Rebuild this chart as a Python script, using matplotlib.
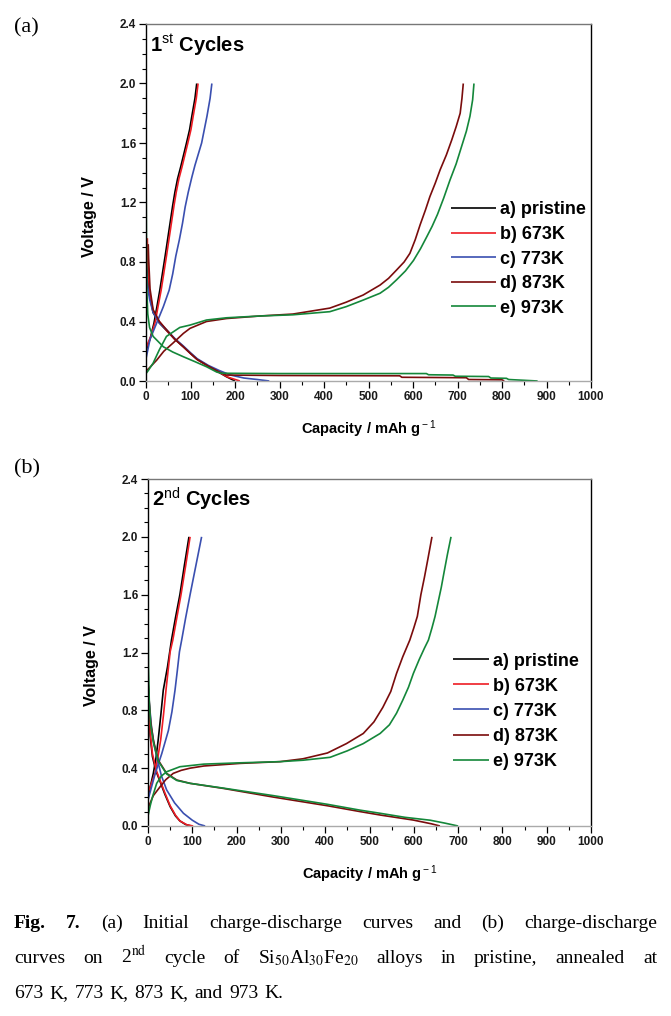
import matplotlib
matplotlib.use("Agg")
import matplotlib.pyplot as plt
from matplotlib.ticker import MultipleLocator

plt.rcParams['font.family'] = ['Liberation Sans', 'DejaVu Sans']
plt.rcParams['mathtext.fontset'] = 'custom'
plt.rcParams['mathtext.rm'] = 'Liberation Sans'
plt.rcParams['mathtext.bf'] = 'Liberation Sans:bold'
plt.rcParams['mathtext.it'] = 'Liberation Sans:italic'

# ---------------- data: panel (a) 1st cycle ----------------
series_labels = ['a) pristine', 'b) 673K', 'c) 773K', 'd) 873K', 'e) 973K']
series_colors = ['#000000', '#ee1c24', '#3a4fb0', '#7a0c0c', '#14873a']

a_pristine_chg_cap = [0, 4, 9, 18, 24, 31, 43, 54, 60, 65, 71, 78, 91, 98, 103, 110, 114]
a_pristine_chg_v = [0.20, 0.24, 0.28, 0.39, 0.49, 0.61, 0.84, 1.06, 1.18, 1.27, 1.36, 1.44, 1.60, 1.69, 1.78, 1.90, 2.0]
a_pristine_dis_cap = [0, 3, 8, 16, 30, 46, 65, 84, 100, 115, 140, 160, 180, 200]
a_pristine_dis_v = [0.85, 0.72, 0.58, 0.46, 0.39, 0.34, 0.28, 0.23, 0.185, 0.145, 0.10, 0.065, 0.03, 0.0]

a_673_chg_cap = [0, 5, 11, 21, 27, 34, 46, 57, 63, 68, 74, 81, 94, 101, 106, 113, 117]
a_673_chg_v = [0.22, 0.26, 0.30, 0.40, 0.50, 0.61, 0.84, 1.06, 1.18, 1.27, 1.36, 1.44, 1.60, 1.69, 1.78, 1.90, 2.0]
a_673_dis_cap = [3, 4, 8, 16, 30, 46, 65, 84, 100, 115, 140, 160, 185, 211]
a_673_dis_v = [0.96, 0.80, 0.60, 0.47, 0.40, 0.34, 0.28, 0.23, 0.185, 0.145, 0.10, 0.065, 0.025, 0.0]

a_773_chg_cap = [0, 9, 24, 39, 52, 60, 67, 75, 82, 88, 95, 103, 110, 118, 125, 137, 144, 148]
a_773_chg_v = [0.15, 0.28, 0.39, 0.50, 0.61, 0.72, 0.84, 0.95, 1.06, 1.17, 1.27, 1.37, 1.45, 1.53, 1.60, 1.78, 1.90, 2.0]
a_773_dis_cap = [0, 3, 8, 16, 30, 46, 65, 84, 100, 115, 140, 165, 190, 220, 250, 277]
a_773_dis_v = [0.80, 0.65, 0.55, 0.46, 0.39, 0.345, 0.285, 0.235, 0.19, 0.15, 0.105, 0.07, 0.04, 0.02, 0.01, 0.0]

a_873_chg_cap = [0, 5, 24, 40, 61, 84, 99, 136, 181, 256, 330, 413, 450, 488, 526, 545, 563, 580, 593, 605, 616, 628, 638, 650, 661, 675, 687, 697, 706, 710, 713]
a_873_chg_v = [0.07, 0.08, 0.14, 0.20, 0.256, 0.32, 0.354, 0.40, 0.42, 0.437, 0.45, 0.49, 0.53, 0.578, 0.645, 0.69, 0.746, 0.80, 0.858, 0.95, 1.05, 1.15, 1.24, 1.33, 1.42, 1.52, 1.62, 1.71, 1.80, 1.90, 2.0]
a_873_dis_cap = [5, 6, 9, 16, 30, 46, 65, 84, 100, 115, 140, 165, 180, 300, 570, 575, 720, 725, 800, 805]
a_873_dis_v = [0.92, 0.82, 0.62, 0.48, 0.40, 0.345, 0.28, 0.23, 0.185, 0.145, 0.10, 0.06, 0.04, 0.037, 0.035, 0.025, 0.022, 0.01, 0.008, 0.0]

a_973_chg_cap = [0, 5, 16, 30, 46, 61, 76, 99, 136, 181, 256, 330, 413, 450, 488, 526, 545, 563, 583, 601, 617, 631, 643, 655, 669, 683, 697, 709, 720, 728, 734, 737]
a_973_chg_v = [0.05, 0.07, 0.12, 0.21, 0.30, 0.33, 0.36, 0.376, 0.41, 0.425, 0.437, 0.445, 0.466, 0.50, 0.544, 0.59, 0.63, 0.68, 0.74, 0.81, 0.89, 0.97, 1.04, 1.12, 1.23, 1.35, 1.46, 1.575, 1.68, 1.78, 1.89, 2.0]
a_973_dis_cap = [0, 1, 2, 4, 8, 16, 39, 60, 84, 110, 136, 159, 170, 300, 630, 635, 690, 695, 770, 775, 810, 815, 880]
a_973_dis_v = [1.50, 0.90, 0.60, 0.45, 0.36, 0.30, 0.23, 0.195, 0.163, 0.13, 0.096, 0.06, 0.052, 0.05, 0.05, 0.042, 0.04, 0.032, 0.03, 0.02, 0.018, 0.01, 0.0]

# ---------------- data: panel (b) 2nd cycle ----------------
b_pristine_chg_cap = [0, 5, 12, 18, 23, 29, 34.5, 44, 53, 62, 72, 82, 92.5]
b_pristine_chg_v = [0.20, 0.27, 0.364, 0.47, 0.595, 0.77, 0.94, 1.10, 1.286, 1.44, 1.60, 1.80, 2.0]
b_pristine_dis_cap = [0, 2, 5, 10, 18, 27, 38, 50, 62, 72, 85, 98]
b_pristine_dis_v = [0.95, 0.80, 0.62, 0.48, 0.38, 0.31, 0.22, 0.134, 0.07, 0.035, 0.01, 0.0]

b_673_chg_cap = [0, 6, 15.8, 22, 28.6, 35, 40.6, 50, 56, 65, 74.5, 85, 95]
b_673_chg_v = [0.23, 0.28, 0.364, 0.47, 0.595, 0.77, 0.94, 1.205, 1.286, 1.44, 1.60, 1.80, 2.0]
b_673_dis_cap = [0, 2, 5, 10, 18, 27, 38, 50, 62, 72, 88, 102]
b_673_dis_v = [1.01, 0.85, 0.65, 0.50, 0.39, 0.318, 0.23, 0.14, 0.075, 0.035, 0.008, 0.0]

b_773_chg_cap = [0, 8, 16, 31, 46, 54, 61, 66, 71, 76, 85, 95, 108, 121]
b_773_chg_v = [0.18, 0.27, 0.36, 0.50, 0.66, 0.79, 0.94, 1.07, 1.205, 1.286, 1.44, 1.60, 1.80, 2.0]
b_773_dis_cap = [0, 3, 8, 14, 19.6, 30, 42, 60, 80, 100, 115, 129]
b_773_dis_v = [0.98, 0.85, 0.68, 0.56, 0.48, 0.35, 0.25, 0.16, 0.088, 0.04, 0.012, 0.0]

b_873_chg_cap = [0, 5, 12, 27, 40, 57, 75, 95, 126, 208, 298, 350, 405, 448, 486, 510, 530, 548, 561, 575, 591, 600, 608, 616, 624, 632, 641]
b_873_chg_v = [0.12, 0.16, 0.21, 0.27, 0.32, 0.364, 0.385, 0.40, 0.415, 0.433, 0.445, 0.465, 0.505, 0.57, 0.64, 0.72, 0.82, 0.93, 1.055, 1.17, 1.286, 1.37, 1.45, 1.60, 1.72, 1.85, 2.0]
b_873_dis_cap = [0, 3, 6, 12, 23, 42, 65, 95, 170, 283, 405, 478, 524, 599, 640, 659]
b_873_dis_v = [1.00, 0.85, 0.72, 0.595, 0.456, 0.364, 0.318, 0.295, 0.26, 0.20, 0.14, 0.10, 0.076, 0.041, 0.015, 0.0]

b_973_chg_cap = [0, 5, 10, 19.6, 30, 42, 72, 126, 208, 298, 350, 411, 450, 486, 524, 545, 561, 575, 588, 599, 612, 624, 633, 641, 648, 655, 662, 668, 676, 684]
b_973_chg_v = [0.07, 0.14, 0.20, 0.295, 0.345, 0.375, 0.41, 0.428, 0.437, 0.445, 0.455, 0.475, 0.52, 0.57, 0.64, 0.70, 0.78, 0.87, 0.96, 1.055, 1.15, 1.23, 1.286, 1.37, 1.45, 1.55, 1.65, 1.75, 1.88, 2.0]
b_973_dis_cap = [0, 1, 3, 6, 12, 23, 42, 65, 95, 170, 283, 405, 478, 524, 580, 637, 670, 700]
b_973_dis_v = [1.50, 1.10, 0.85, 0.70, 0.58, 0.45, 0.36, 0.315, 0.295, 0.262, 0.21, 0.15, 0.11, 0.088, 0.06, 0.04, 0.02, 0.0]

panel_a = [
    (a_pristine_chg_cap, a_pristine_chg_v, a_pristine_dis_cap, a_pristine_dis_v),
    (a_673_chg_cap, a_673_chg_v, a_673_dis_cap, a_673_dis_v),
    (a_773_chg_cap, a_773_chg_v, a_773_dis_cap, a_773_dis_v),
    (a_873_chg_cap, a_873_chg_v, a_873_dis_cap, a_873_dis_v),
    (a_973_chg_cap, a_973_chg_v, a_973_dis_cap, a_973_dis_v),
]
panel_b = [
    (b_pristine_chg_cap, b_pristine_chg_v, b_pristine_dis_cap, b_pristine_dis_v),
    (b_673_chg_cap, b_673_chg_v, b_673_dis_cap, b_673_dis_v),
    (b_773_chg_cap, b_773_chg_v, b_773_dis_cap, b_773_dis_v),
    (b_873_chg_cap, b_873_chg_v, b_873_dis_cap, b_873_dis_v),
    (b_973_chg_cap, b_973_chg_v, b_973_dis_cap, b_973_dis_v),
]

W, H = 671, 1016
fig = plt.figure(figsize=(W / 100, H / 100), dpi=100)


def px_axes(left, top, right, bottom):
    return fig.add_axes([left / W, 1 - bottom / H, (right - left) / W, (bottom - top) / H])


def style_axes(ax, title, leg_anchor, handlelength, labelspacing, ylab_xy):
    ax.set_xlim(0, 1000)
    ax.set_ylim(0, 2.4)
    ax.xaxis.set_major_locator(MultipleLocator(100))
    ax.xaxis.set_minor_locator(MultipleLocator(50))
    ax.yaxis.set_major_locator(MultipleLocator(0.4))
    ax.yaxis.set_minor_locator(MultipleLocator(0.1))
    ax.yaxis.set_major_formatter(plt.FuncFormatter(lambda v, p: f"{v:.1f}"))
    ax.tick_params(which='major', direction='out', length=5, width=0.9, labelsize=8.5, pad=2)
    ax.tick_params(which='minor', direction='out', length=3, width=0.8)
    for lab in ax.get_xticklabels() + ax.get_yticklabels():
        lab.set_fontweight('bold')
        lab.set_color('#1a1a1a')
    ax.spines['top'].set_color('#777777')
    ax.spines['bottom'].set_color('#aaaaaa')
    ax.spines['left'].set_color('#000000')
    ax.spines['right'].set_color('#000000')
    for s in ax.spines.values():
        s.set_linewidth(1.0)
    ax.set_ylabel('Voltage / V', fontsize=11.5, fontweight='bold')
    ax.yaxis.set_label_coords(*ylab_xy)
    ax.set_xlabel(r'Capacity / mAh g$^{\rm -1}$', fontsize=10.5, fontweight='bold', labelpad=11)
    ax.text(0.01, 0.94, title, transform=ax.transAxes, fontsize=14.5, fontweight='bold',
            va='center', ha='left')
    ax.legend(loc='upper left', bbox_to_anchor=leg_anchor, frameon=False,
              prop={'family': 'Liberation Sans', 'weight': 'bold', 'size': 13},
              handlelength=handlelength, handletextpad=0.25, labelspacing=labelspacing,
              borderpad=0, borderaxespad=0)


def draw_panel(ax, data):
    for (cc, cv, dc, dv), col, lab in zip(data, series_colors, series_labels):
        ax.plot(cc, cv, color=col, lw=1.2, label=lab, solid_capstyle='butt', solid_joinstyle='round')
        ax.plot(dc, dv, color=col, lw=1.2, solid_capstyle='butt', solid_joinstyle='round')


ax1 = px_axes(146, 24, 591, 381)
draw_panel(ax1, panel_a)
style_axes(ax1, r'1$^{\rm st}$ Cycles', (0.685, 0.503), 2.5, 0.42, (-0.111, 0.462))

ax2 = px_axes(148, 479, 591, 826)
draw_panel(ax2, panel_b)
style_axes(ax2, r'2$^{\rm nd}$ Cycles', (0.688, 0.50), 2.0, 0.45, (-0.111, 0.462))

serif = ['Liberation Serif', 'DejaVu Serif']
fig.text(14 / W, 1 - 28 / H, '(a)', fontsize=16, family=serif, va='center', ha='left')
fig.text(14 / W, 1 - 469 / H, '(b)', fontsize=16, family=serif, va='center', ha='left')

# ---------------- caption with justified lines ----------------
cap_fs = 14
renderer = fig.canvas.get_renderer()


def caption_line(words, y_px, x0=14, x1=657, justify=True, gap_px=None):
    texts = []
    for w, weight in words:
        t = fig.text(0, 1 - y_px / H, w, fontsize=cap_fs, family=serif, fontweight=weight,
                     va='baseline', ha='left', math_fontfamily='stix')
        texts.append(t)
    widths = [t.get_window_extent(renderer).width for t in texts]
    if justify:
        gap = (x1 - x0 - sum(widths)) / (len(words) - 1)
    else:
        gap = gap_px
    x = x0
    for t, w in zip(texts, widths):
        t.set_x(x / W)
        x += w + gap


line1 = [('Fig.', 'bold'), ('7.', 'bold'), ('(a)', 'normal'), ('Initial', 'normal'),
         ('charge-discharge', 'normal'), ('curves', 'normal'), ('and', 'normal'),
         ('(b)', 'normal'), ('charge-discharge', 'normal')]
line2 = [('curves', 'normal'), ('on', 'normal'), (r'2$^{\rm nd}$', 'normal'), ('cycle', 'normal'),
         ('of', 'normal'), (r'Si$_{\rm 50}$Al$_{\rm 30}$Fe$_{\rm 20}$', 'normal'), ('alloys', 'normal'),
         ('in', 'normal'), ('pristine,', 'normal'), ('annealed', 'normal'), ('at', 'normal')]
line3 = [('673', 'normal'), ('K,', 'normal'), ('773', 'normal'), ('K,', 'normal'),
         ('873', 'normal'), ('K,', 'normal'), ('and', 'normal'), ('973', 'normal'), ('K.', 'normal')]
caption_line(line1, 928)
caption_line(line2, 963)
caption_line(line3, 998, justify=False, gap_px=6)

fig.savefig('out.png', dpi=100)
